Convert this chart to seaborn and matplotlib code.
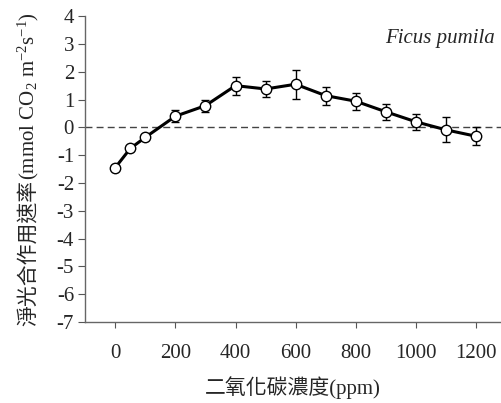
import numpy as np
import pandas as pd
import matplotlib
matplotlib.use("Agg")
import matplotlib.pyplot as plt
import seaborn as sns

# CO2 concentration (ppm) and net photosynthesis rate
co2 = [0, 50, 100, 200, 300, 400, 500, 600, 700, 800, 900, 1000, 1100, 1200]
rate = [-1.45, -0.76, -0.36, 0.40, 0.78, 1.50, 1.38, 1.55, 1.14, 0.94, 0.56, 0.20, -0.09, -0.32]
err = [0.10, 0.08, 0.08, 0.22, 0.22, 0.32, 0.28, 0.52, 0.32, 0.30, 0.28, 0.28, 0.45, 0.33]
yticks = list(range(-7, 5))
xticks = [0, 200, 400, 600, 800, 1000, 1200]

sns.set_style("ticks")
plt.rcParams['font.family'] = ['Liberation Serif', 'Noto Sans CJK TC']
plt.rcParams['mathtext.fontset'] = 'custom'
plt.rcParams['mathtext.rm'] = 'Liberation Serif'
plt.rcParams['mathtext.it'] = 'Liberation Serif:italic'
plt.rcParams['axes.unicode_minus'] = False

df = pd.DataFrame({"co2": co2, "rate": rate})

fig = plt.figure(figsize=(5.01, 4.03), dpi=100)
ax = fig.add_axes([0.170, 0.201, 0.830, 0.759])

ax.axhline(0, color="#444444", lw=1, ls=(0, (5, 3)), zorder=1)
ax.errorbar(co2, rate, yerr=err, fmt="none", ecolor="black", elinewidth=1,
            capsize=3, capthick=1, zorder=2)
sns.lineplot(data=df, x="co2", y="rate", ax=ax, color="black", lw=2.2,
             marker="o", markersize=7.5, markerfacecolor="white",
             markeredgecolor="black", markeredgewidth=1, zorder=3)

ax.set_xlim(-100, 1283)
ax.set_ylim(-7, 4)
ax.set_xticks(xticks)
ax.set_yticks(yticks)
ax.tick_params(axis="x", direction="out", length=4, pad=12, labelsize=15, color="#555555")
ax.tick_params(axis="y", direction="out", length=5, pad=3, labelsize=15, color="#555555")
for s in ["top", "right"]:
    ax.spines[s].set_visible(False)
for s in ["left", "bottom"]:
    ax.spines[s].set_color("#666666")
    ax.spines[s].set_linewidth(1)

ax.set_xlabel("二氧化碳濃度(ppm)", fontsize=15, labelpad=9)
ax.set_ylabel("")
ax.text(0.986, 0.928, "Ficus pumila", transform=ax.transAxes, ha="right", va="center",
        style="italic", fontsize=15)

# y label: CJK part as plain text, unit part as mathtext
ylx = 0.068
t1 = fig.text(ylx, 0.1, "淨光合作用速率", rotation=90, rotation_mode="anchor",
              ha="left", va="baseline", fontsize=15)
t2 = fig.text(ylx, 0.5, "(mmol CO$_2$ m$^{-2}$s$^{-1}$)", rotation=90,
              rotation_mode="anchor", ha="left", va="baseline", fontsize=15)
r = fig.canvas.get_renderer()
H = fig.bbox.height
L1 = t1.get_window_extent(r).height
L2 = t2.get_window_extent(r).height
yc = (ax.bbox.y0 + ax.bbox.y1) / 2
y0 = yc - (L1 + L2) / 2
t1.set_position((ylx, y0 / H))
t2.set_position((ylx, (y0 + L1) / H))

fig.savefig("out.png", dpi=100)
